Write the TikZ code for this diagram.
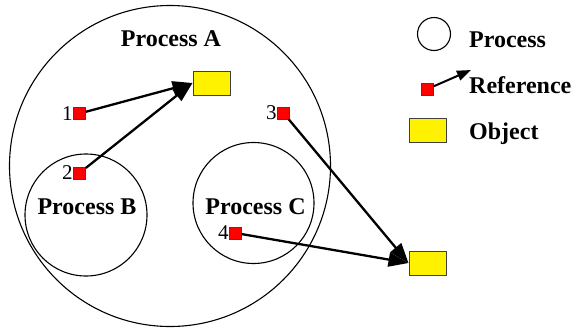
\documentclass[tikz,border=0pt]{standalone}
\usepackage{fontspec}
\setmainfont{Liberation Serif}
\usetikzlibrary{arrows.meta}
\begin{document}
\begin{tikzpicture}[x=1pt,y=-1pt,
  proc/.style={circle, draw, line width=1.1pt, minimum size=#1, inner sep=0, outer sep=0},
  refsq/.style={draw=black!75, fill=red, minimum size=12pt, inner sep=0, line width=0.7pt},
  obj/.style={draw=black!75, fill=yellow, minimum width=37pt, minimum height=24pt, inner sep=0, line width=1pt},
  lbl/.style={font=\fontsize{24}{26}\selectfont\bfseries, anchor=base, inner sep=0},
  leg/.style={font=\fontsize{24}{26}\selectfont\bfseries, anchor=base west, inner sep=0},
  num/.style={font=\fontsize{21}{24}\selectfont, inner sep=0.3pt},
  conn/.style={line width=2.3pt, -{Triangle[length=20pt,width=14pt]}},
]
\useasboundingbox (0,0) rectangle (574,330);
% processes
\node[proc=321pt] (pA) at (170,166) {};
\node[proc=122pt] (pB) at (86,215) {};
\node[proc=121pt] (pC) at (253.5,203) {};
\node[lbl] (tA) at (171,46) {Process A};
\node[lbl] (tB) at (87,214) {Process B};
\node[lbl] (tC) at (255.5,214) {Process C};
% objects
\node[obj] (oA) at (211.5,83) {};
\node[obj] (oB) at (427.5,263) {};
% references
\node[refsq, label={[num]left:1}] (r1) at (79.5,113.5) {};
\node[refsq, label={[num]left:2}] (r2) at (79.5,173) {};
\node[refsq, label={[num]left:3}] (r3) at (283.5,113) {};
\node[refsq, label={[num]left:4}] (r4) at (235.5,233) {};
\draw[conn] (r1) -- (oA.west);
\draw[conn] (r2) -- (oA.west);
\draw[conn] (r3) -- (oB.west);
\draw[conn] (r4) -- (oB.west);
% legend
\node[proc=33pt] (lp) at (434,34) {};
\node[leg] (lpt) at (469,47) {Process};
\node[refsq] (lr) at (427.5,89) {};
\coordinate (ltip) at (471,70);
\draw[line width=2pt, -{Triangle[length=14pt,width=10pt]}] (lr) -- (ltip);
\node[leg] (lrt) at (469,93) {Reference};
\node[obj] (lo) at (427.5,130.5) {};
\node[leg] (lot) at (469,139) {Object};
\end{tikzpicture}
\end{document}
